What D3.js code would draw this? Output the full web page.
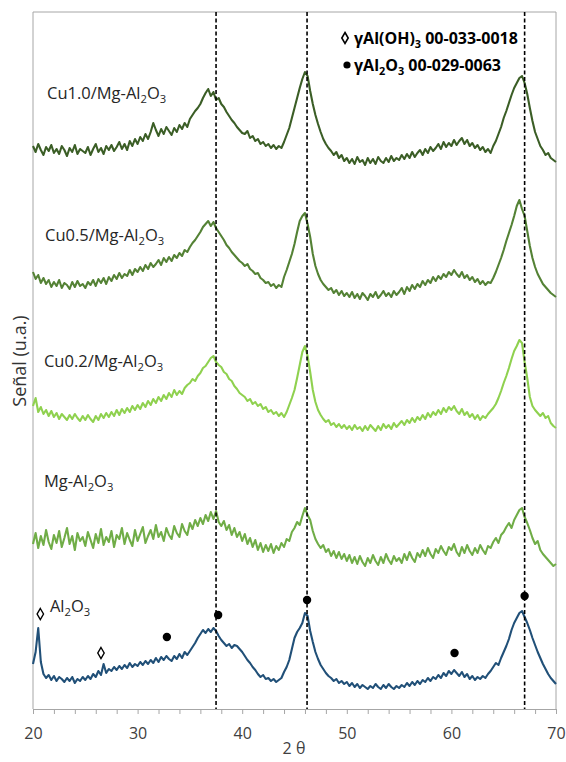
<!DOCTYPE html>
<html>
<head>
<meta charset="utf-8">
<script src="https://cdn.jsdelivr.net/npm/d3@7"></script>
<style>
  body { margin: 0; background: #fff; }
  text { font-family: "Open Sans", sans-serif; }
</style>
</head>
<body>
<div id="chart"></div>
<script>
// 2θ grid of the scans (start, step in degrees)
var angleStart = 20, angleStep = 0.25;

// reference lines and axis ticks
var refLines = [37.5, 46.2, 67.0];
var labelTicks = [20, 30, 40, 50, 60, 70];

// intensities (u.a., stacked with offsets), one value per 0.25°
var cu10 = [
  578, 572, 580, 574, 569, 577, 573, 579, 571, 575, 570, 578, 574, 568, 576, 572, 579, 570, 575, 573,
  571, 577, 569, 575, 580, 572, 576, 570, 578, 574, 579, 573, 577, 582, 575, 580, 574, 583, 578, 585,
  580, 587, 583, 590, 585, 592, 601, 594, 588, 595, 590, 597, 593, 589, 596, 592, 599, 595, 601, 597,
  605, 609, 613, 616, 620, 626, 631, 635, 628, 632, 624, 626, 620, 617, 612, 608, 604, 601, 597, 594,
  591, 590, 593, 586, 588, 583, 585, 580, 582, 578, 580, 576, 579, 575, 578, 576, 582, 589, 596, 606,
  616, 626, 636, 645, 652, 648, 633, 620, 609, 600, 592, 585, 580, 576, 573, 569, 572, 566, 569, 563,
  566, 561, 565, 560, 567, 562, 564, 559, 566, 561, 565, 560, 567, 563, 561, 566, 562, 568, 563, 566,
  564, 569, 565, 570, 566, 572, 567, 571, 574, 569, 575, 571, 577, 573, 576, 580, 575, 582, 577, 581,
  578, 584, 579, 583, 586, 580, 584, 578, 581, 576, 579, 574, 577, 572, 575, 571, 578, 583, 590, 597,
  606, 613, 621, 629, 636, 641, 646, 648, 641, 630, 616, 603, 592, 585, 578, 574, 569, 571, 566, 564,
  562
];
var cu05 = [
  452, 445, 449, 441, 446, 440, 444, 437, 442, 438, 444, 436, 441, 439, 435, 442, 437, 443, 438, 440,
  436, 442, 439, 444, 438, 445, 441, 446, 440, 447, 443, 449, 445, 451, 446, 450, 448, 454, 449, 455,
  452, 457, 453, 459, 455, 461, 457, 460, 464, 459, 466, 462, 467, 463, 469, 466, 471, 468, 474, 472,
  477, 481, 484, 488, 492, 497, 500, 503, 498, 502, 496, 492, 488, 484, 479, 476, 472, 469, 466, 463,
  461, 458, 460, 455, 453, 450, 451, 446, 444, 441, 442, 438, 440, 436, 439, 437, 447, 454, 462, 470,
  480, 492, 503, 508, 511, 500, 487, 470, 458, 450, 444, 440, 437, 434, 436, 431, 434, 429, 433, 428,
  431, 427, 432, 426, 430, 425, 431, 428, 424, 430, 427, 432, 426, 429, 433, 428, 431, 427, 433, 429,
  432, 436, 430, 437, 433, 439, 435, 440, 437, 443, 439, 444, 441, 447, 443, 448, 445, 450, 447, 452,
  449, 454, 450, 447, 452, 446, 449, 444, 447, 442, 445, 440, 443, 439, 442, 441, 446, 452, 459, 466,
  474, 483, 491, 499, 508, 518, 524, 515, 508, 493, 478, 466, 457, 450, 445, 440, 437, 434, 431, 429,
  427
];
var cu02 = [
  318, 326, 312, 317, 310, 314, 308, 313, 307, 311, 305, 310, 307, 304, 309, 305, 310, 306, 303, 308,
  304, 309, 305, 302, 308, 304, 310, 306, 311, 307, 312, 308, 314, 309, 315, 311, 316, 312, 318, 314,
  319, 315, 321, 317, 323, 319, 325, 321, 327, 323, 329, 325, 331, 327, 334, 329, 333, 330, 336, 339,
  341, 345, 343, 348, 351, 356, 358, 362, 366, 368, 362, 359, 357, 352, 350, 345, 343, 338, 335, 331,
  329, 327, 323, 325, 320, 322, 318, 320, 315, 317, 312, 314, 310, 312, 308, 311, 307, 312, 319, 326,
  334, 346, 359, 372, 378, 368, 352, 334, 322, 314, 309, 305, 302, 304, 299, 301, 297, 300, 296, 299,
  295, 298, 294, 299, 295, 297, 293, 298, 294, 299, 296, 293, 298, 294, 300, 296, 299, 295, 301, 297,
  300, 303, 299, 304, 301, 306, 302, 307, 304, 309, 305, 311, 307, 312, 309, 314, 310, 316, 312, 317,
  314, 318, 313, 310, 315, 309, 312, 307, 310, 305, 309, 304, 308, 306, 310, 313, 316, 320, 326, 333,
  341, 348, 356, 365, 373, 378, 384, 381, 362, 346, 327, 318, 314, 311, 308, 311, 306, 308, 301, 298,
  296
];
var mgAl = [
  180, 191, 176, 188, 179, 194, 182, 175, 189, 181, 193, 177, 186, 196, 180, 188, 174, 191, 183, 187,
  178, 192, 184, 176, 190, 181, 195, 179, 187, 182, 193, 177, 189, 185, 196, 180, 191, 184, 178, 194,
  183, 190, 197, 181, 188, 194, 185, 199, 187, 192, 183, 196, 189, 185, 198, 191, 187, 200, 193, 189,
  201, 195, 204, 198, 206, 200, 209, 203, 212, 205, 213, 202, 198, 203, 194, 199, 189, 196, 187, 192,
  183, 190, 180, 186, 177, 184, 174, 181, 172, 179, 173, 180, 171, 178, 174, 181, 177, 185, 183, 192,
  196, 202, 199, 208, 216, 209, 204, 193, 185, 180, 176, 179, 172, 175, 168, 173, 166, 172, 165, 170,
  163, 169, 161, 167, 160, 168, 162, 158, 166, 161, 169, 163, 159, 167, 161, 170, 164, 160, 168, 163,
  166, 161, 170, 164, 172, 166, 162, 171, 167, 174, 168, 176, 170, 166, 175, 171, 178, 173, 169, 177,
  174, 180, 172, 168, 177, 171, 179, 173, 169, 176, 171, 179, 174, 170, 178, 176, 182, 186, 181, 189,
  192, 197, 201, 196, 204, 209, 214, 216, 207, 201, 194, 186, 180, 183, 174, 170, 167, 164, 161, 158,
  160
];
var al2o3 = [
  60, 72, 96, 62, 50, 46, 49, 44, 48, 43, 47, 45, 42, 46, 43, 47, 41, 45, 43, 47,
  44, 48, 45, 50, 47, 53, 49, 60, 51, 55, 53, 57, 54, 58, 55, 59, 56, 61, 57, 60,
  58, 62, 59, 63, 60, 64, 61, 66, 62, 67, 64, 68, 65, 63, 68, 65, 70, 66, 72, 69,
  73, 77, 81, 86, 90, 94, 91, 95, 92, 96, 93, 88, 84, 81, 78, 80, 76, 79, 78, 75,
  72, 68, 64, 61, 57, 54, 50, 47, 49, 45, 46, 43, 45, 42, 44, 46, 52, 57, 64, 75,
  86, 92, 96, 101, 111, 108, 93, 82, 72, 65, 59, 55, 51, 48, 46, 43, 45, 41, 43, 40,
  42, 38, 41, 37, 40, 36, 39, 37, 35, 38, 36, 40, 37, 35, 39, 36, 40, 37, 35, 38,
  36, 39, 37, 41, 38, 42, 39, 43, 40, 44, 42, 46, 43, 47, 45, 49, 46, 51, 48, 53,
  50, 54, 51, 48, 52, 47, 50, 45, 48, 44, 47, 45, 48, 46, 50, 53, 57, 61, 59, 66,
  72, 78, 85, 94, 101, 106, 111, 113, 107, 101, 94, 86, 79, 72, 66, 60, 55, 50, 46, 43,
  40
];

var seriesNames = ["Cu1.0/Mg-Al_2O_3", "Cu0.5/Mg-Al_2O_3", "Cu0.2/Mg-Al_2O_3", "Mg-Al_2O_3", "Al_2O_3"];
var seriesValues = [cu10, cu05, cu02, mgAl, al2o3];
var seriesColors = ["#3b5e26", "#548235", "#8fd14f", "#70ad47", "#215078"];

// phase markers on the Al2O3 scan
var gibbsiteAngles = [20.7, 26.5], gibbsiteValues = [110, 71];
var aluminaAngles = [32.8, 37.7, 46.2, 60.3, 67.0], aluminaValues = [87, 109, 124, 71, 128];

var margin = { top: 12, right: 10, bottom: 53, left: 33 },
    width = 566 - margin.left - margin.right,
    height = 762 - margin.top - margin.bottom;

var svg = d3.select("#chart")
    .append("svg")
    .attr("width", 566)
    .attr("height", 762)
    .append("g")
    .attr("transform", "translate(" + margin.left + "," + margin.top + ")");

var x = d3.scaleLinear().domain([20, 70]).range([0, width]);
var y = d3.scaleLinear().domain([15, 712]).range([height, 0]);

// writes "Al_2O_3" style names with subscripts
function chemText(sel, str, size) {
    str.split(/(_\d)/).forEach(function (part) {
        if (!part) return;
        if (part[0] === "_") {
            sel.append("tspan").attr("font-size", size * 0.68).attr("dy", size * 0.22).text(part[1]);
        } else {
            var t = sel.append("tspan").text(part);
            if (sel.selectAll("tspan").size() > 1) t.attr("dy", -size * 0.22);
        }
    });
}

// plot frame (left, top, right)
svg.append("path")
    .attr("d", "M0," + height + "V0H" + width + "V" + height)
    .attr("fill", "none")
    .attr("stroke", "#a6a6a6");

// x axis
var xAxis = svg.append("g")
    .attr("transform", "translate(0," + height + ")")
    .call(d3.axisBottom(x)
        .tickValues(d3.range(20, 71, 2))
        .tickSize(5)
        .tickSizeOuter(0)
        .tickFormat(function (d) { return labelTicks.indexOf(d) >= 0 ? d : ""; }));
xAxis.select(".domain").attr("stroke", "#a6a6a6");
xAxis.selectAll(".tick line").attr("stroke", "#a6a6a6");
xAxis.selectAll(".tick text")
    .attr("y", 30).attr("dy", 0)
    .attr("fill", "#404040")
    .style("font-size", "16px")
    .style("font-family", "'Open Sans', sans-serif");

svg.append("text")
    .attr("x", 261).attr("y", height + 45)
    .attr("text-anchor", "middle")
    .attr("fill", "#404040")
    .style("font-size", "16px")
    .text("2 θ");

svg.append("text")
    .attr("transform", "translate(" + (-7) + "," + 349 + ")rotate(-90)")
    .attr("text-anchor", "middle")
    .attr("fill", "#333")
    .style("font-size", "18px")
    .text("Señal (u.a.)");

// scans
var line = d3.line()
    .x(function (d, i) { return x(angleStart + i * angleStep); })
    .y(function (d) { return y(d); });

svg.selectAll(".scan")
    .data(seriesValues)
    .enter()
    .append("path")
    .attr("class", "scan")
    .attr("d", line)
    .attr("fill", "none")
    .attr("stroke", function (d, i) { return seriesColors[i]; })
    .attr("stroke-width", 2.1)
    .attr("stroke-linejoin", "round");

// series labels (angle, value)
var labelAt = [[21.34, 625], [21.15, 483], [21.05, 357], [21.05, 237], [21.62, 112]];
seriesNames.forEach(function (name, i) {
    var t = svg.append("text")
        .attr("x", x(labelAt[i][0]))
        .attr("y", y(labelAt[i][1]))
        .attr("fill", "#262626")
        .style("font-size", "16.5px");
    chemText(t, name, 16.5);
});

// reference dashed lines
svg.selectAll(".ref")
    .data(refLines)
    .enter()
    .append("line")
    .attr("class", "ref")
    .attr("x1", function (d) { return x(d); })
    .attr("x2", function (d) { return x(d); })
    .attr("y1", 0)
    .attr("y2", height)
    .attr("stroke", "#000")
    .attr("stroke-width", 1.6)
    .attr("stroke-dasharray", "4,2.5");

// markers
var diamond = "M0,-5.5L3.2,0L0,5.5L-3.2,0Z";
svg.selectAll(".gib")
    .data(gibbsiteAngles)
    .enter()
    .append("path")
    .attr("class", "gib")
    .attr("transform", function (d, i) { return "translate(" + x(d) + "," + y(gibbsiteValues[i]) + ")"; })
    .attr("d", diamond)
    .attr("fill", "#fff")
    .attr("stroke", "#000")
    .attr("stroke-width", 1.4);

svg.selectAll(".alu")
    .data(aluminaAngles)
    .enter()
    .append("circle")
    .attr("class", "alu")
    .attr("cx", function (d) { return x(d); })
    .attr("cy", function (d, i) { return y(aluminaValues[i]); })
    .attr("r", 4.2)
    .attr("fill", "#000");

// legend
var legend = svg.append("g").attr("transform", "translate(312,0)");
legend.append("path")
    .attr("transform", "translate(0,26)")
    .attr("d", diamond)
    .attr("fill", "#fff")
    .attr("stroke", "#000")
    .attr("stroke-width", 1.6);
legend.append("circle")
    .attr("cx", 2).attr("cy", 53).attr("r", 3.6)
    .attr("fill", "#000");
var l1 = legend.append("text").attr("x", 9).attr("y", 32)
    .style("font-size", "16px").style("font-weight", "bold");
chemText(l1, "γAl(OH)_3 00-033-0018", 16);
var l2 = legend.append("text").attr("x", 9).attr("y", 59)
    .style("font-size", "16px").style("font-weight", "bold");
chemText(l2, "γAl_2O_3 00-029-0063", 16);
</script>
</body>
</html>
